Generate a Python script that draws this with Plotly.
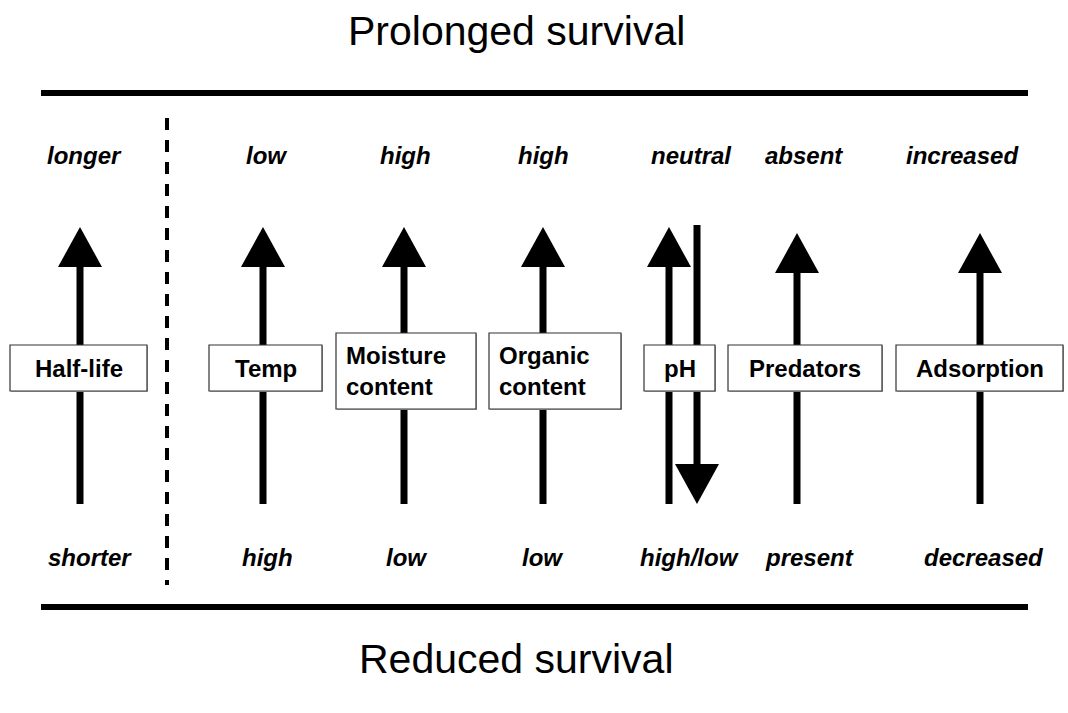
import plotly.graph_objects as go

# ---- content ----
factors = ["Half-life", "Temp", "Moisture<br>content", "Organic<br>content", "pH", "Predators", "Adsorption"]
top_labels = ["longer", "low", "high", "high", "neutral", "absent", "increased"]
bottom_labels = ["shorter", "high", "low", "low", "high/low", "present", "decreased"]
title_top = "Prolonged survival"
title_bottom = "Reduced survival"

# ---- layout geometry (pixels in the 1068x713 window) ----
arrow_x = [80, 263, 404, 543, 669, 797, 980]
head_tip = [227, 227, 227, 227, 227, 233, 233]
box_left = [10, 209, 336, 489, 644, 728, 896]
box_right = [147, 322, 476, 621, 715, 882, 1063]
box_top = [345, 345, 333, 333, 345, 345, 345]
box_bot = [391, 391, 409, 409, 391, 391, 391]
box_align = ["center", "center", "left", "left", "center", "center", "center"]
top_x = [84, 266, 405, 543, 691, 804, 962]
bot_x = [90, 267, 406, 542, 689, 809, 984]

W, H = 1068, 713
fig = go.Figure()
fig.add_trace(go.Scatter(x=[0, W], y=[0, H], mode="markers", marker=dict(opacity=0),
                         hoverinfo="skip", showlegend=False))

shapes = []
BLACK = "#000000"
for yy in (93, 607):
    shapes.append(dict(type="line", x0=41, x1=1028, y0=yy, y1=yy, line=dict(color=BLACK, width=6)))
shapes.append(dict(type="line", x0=167, x1=167, y0=118, y1=585, line=dict(color=BLACK, width=4, dash="12px,10px")))

shaft_bottom = 504
head_h = 40
head_hw = 22
for i, x in enumerate(arrow_x):
    tip = head_tip[i]
    base = tip + head_h
    shapes.append(dict(type="line", x0=x, x1=x, y0=base, y1=shaft_bottom, line=dict(color=BLACK, width=7)))
    shapes.append(dict(type="path", path=f"M {x-head_hw},{base} L {x+head_hw},{base} L {x},{tip} Z",
                       fillcolor=BLACK, line=dict(color=BLACK, width=0)))
    if factors[i] == "pH":
        x2 = 697
        dbase = shaft_bottom - head_h
        shapes.append(dict(type="line", x0=x2, x1=x2, y0=225, y1=dbase, line=dict(color=BLACK, width=7)))
        shapes.append(dict(type="path", path=f"M {x2-head_hw},{dbase} L {x2+head_hw},{dbase} L {x2},{shaft_bottom} Z",
                           fillcolor=BLACK, line=dict(color=BLACK, width=0)))

for i in range(len(factors)):
    shapes.append(dict(type="rect", x0=box_left[i] + 1, x1=box_right[i] + 1, y0=box_top[i] + 1, y1=box_bot[i] + 1,
                       fillcolor="#b0b0b0", line=dict(width=0)))
    shapes.append(dict(type="rect", x0=box_left[i], x1=box_right[i], y0=box_top[i], y1=box_bot[i],
                       fillcolor="white", line=dict(color="#333333", width=1.2)))

annotations = []
FONT = "Liberation Sans, Arial, Helvetica, sans-serif"
BOXF = dict(family=FONT, size=24, color=BLACK, weight="bold")
LABF = dict(family=FONT, size=24, color=BLACK, weight="bold", style="italic")
for i, f in enumerate(factors):
    if box_align[i] == "left":
        annotations.append(dict(x=box_left[i] + 8, y=(box_top[i] + box_bot[i]) / 2, text=f, showarrow=False,
                                xanchor="left", yanchor="middle", align="left", font=BOXF))
    else:
        annotations.append(dict(x=(box_left[i] + box_right[i]) / 2, y=(box_top[i] + box_bot[i]) / 2, text=f,
                                showarrow=False, xanchor="center", yanchor="middle", font=BOXF))
for i in range(len(factors)):
    annotations.append(dict(x=top_x[i], y=155, text=top_labels[i], showarrow=False, xanchor="center",
                            yanchor="middle", font=LABF))
    annotations.append(dict(x=bot_x[i], y=557, text=bottom_labels[i], showarrow=False, xanchor="center",
                            yanchor="middle", font=LABF))
annotations.append(dict(x=516, y=31, text=title_top, showarrow=False, xanchor="center", yanchor="middle",
                        font=dict(family=FONT, size=41, color=BLACK)))
annotations.append(dict(x=516, y=659, text=title_bottom, showarrow=False, xanchor="center", yanchor="middle",
                        font=dict(family=FONT, size=41, color=BLACK)))

fig.update_layout(
    width=W, height=H, margin=dict(l=0, r=0, t=0, b=0),
    paper_bgcolor="white", plot_bgcolor="white",
    xaxis=dict(range=[0, W], visible=False, fixedrange=True),
    yaxis=dict(range=[H, 0], visible=False, fixedrange=True),
    shapes=shapes, annotations=annotations, showlegend=False,
)
fig.write_html("out.html", config={"displayModeBar": False},
               post_script="document.body.style.margin='0px';document.body.style.overflow='hidden';"
                           "document.documentElement.style.overflow='hidden';")
